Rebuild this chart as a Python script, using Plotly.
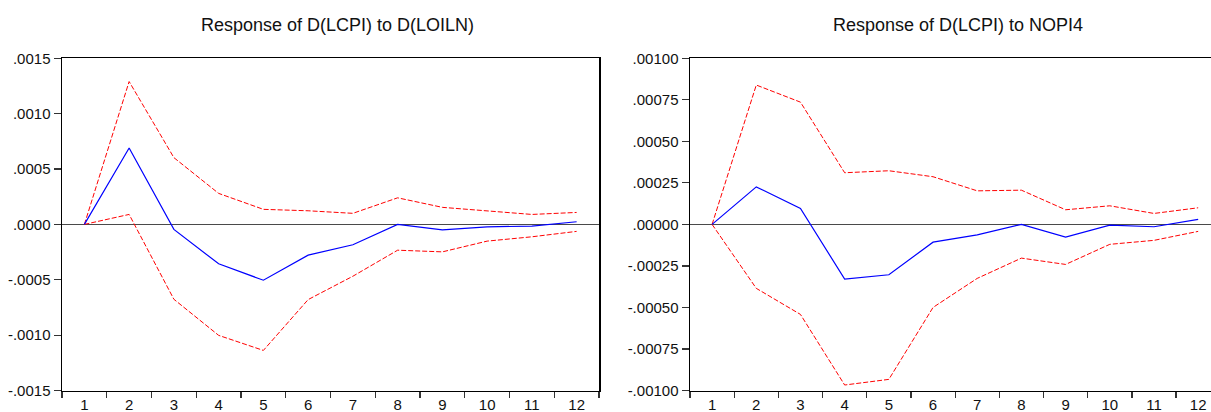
import plotly.graph_objects as go

periods = [str(i) for i in range(1, 13)]

# Panel 1: Response of D(LCPI) to D(LOILN)
oil_resp = [0.0, 0.00069, -0.000045, -0.000356, -0.000504, -0.000278, -0.000184, 0.0, -0.000049, -0.000022, -0.000015, 0.000024]
oil_upper = [0.0, 0.00129, 0.000603, 0.00028, 0.000136, 0.000123, 0.0001, 0.00024, 0.000154, 0.000123, 0.00009, 0.000108]
oil_lower = [0.0, 0.00009, -0.000676, -0.001002, -0.001138, -0.000679, -0.000468, -0.000233, -0.000248, -0.000151, -0.000112, -0.000063]

# Panel 2: Response of D(LCPI) to NOPI4
nopi_resp = [0.0, 0.000226, 0.000096, -0.000329, -0.000303, -0.000107, -0.000063, 0.0, -0.000076, -0.000004, -0.000014, 0.00003]
nopi_upper = [0.0, 0.000839, 0.000736, 0.000311, 0.000323, 0.000287, 0.000202, 0.000206, 0.000088, 0.000112, 0.000066, 0.0001]
nopi_lower = [0.0, -0.000385, -0.000542, -0.000967, -0.000933, -0.0005, -0.000325, -0.000203, -0.000241, -0.00012, -0.000096, -0.000042]

titles = ["Response of D(LCPI) to D(LOILN)", "Response of D(LCPI) to NOPI4"]

y1_vals = [-0.0015, -0.001, -0.0005, 0.0, 0.0005, 0.001, 0.0015]
y1_text = ["-.0015", "-.0010", "-.0005", ".0000", ".0005", ".0010", ".0015"]
y2_vals = [-0.001, -0.00075, -0.0005, -0.00025, 0.0, 0.00025, 0.0005, 0.00075, 0.001]
y2_text = ["-.00100", "-.00075", "-.00050", "-.00025", ".00000", ".00025", ".00050", ".00075", ".00100"]

FONT = "Arial, Liberation Sans, sans-serif"
W, H = 1211, 412


def px_x(px):
    return px / W


def px_y(py):
    return (H - py) / H


fig = go.Figure()


def add_panel(resp, up, lo, xa, ya):
    fig.add_trace(go.Scatter(x=periods, y=up, xaxis=xa, yaxis=ya, mode="lines",
                             line=dict(color="#ff0000", width=1, dash="5px,2px"), showlegend=False))
    fig.add_trace(go.Scatter(x=periods, y=lo, xaxis=xa, yaxis=ya, mode="lines",
                             line=dict(color="#ff0000", width=1, dash="5px,2px"), showlegend=False))
    fig.add_trace(go.Scatter(x=periods, y=resp, xaxis=xa, yaxis=ya, mode="lines",
                             line=dict(color="#0000ff", width=1.2), showlegend=False))


add_panel(oil_resp, oil_upper, oil_lower, "x", "y")
add_panel(nopi_resp, nopi_upper, nopi_lower, "x2", "y2")

ydom = [px_y(390.5), px_y(58.3)]

xcommon = dict(type="category", tickson="boundaries", ticks="outside", ticklen=6,
               tickcolor="#333", tickwidth=1.2, showline=True, linecolor="black", linewidth=1.5,
               mirror=True, showgrid=False, zeroline=False, automargin=False,
               tickfont=dict(family=FONT, size=15, color="#111"))
ycommon = dict(tickmode="array", ticks="outside", ticklen=7, tickcolor="#333", tickwidth=1.2,
               showline=True, linecolor="black", linewidth=1.5, showgrid=False, automargin=False,
               zeroline=True, zerolinecolor="#4a4a4a", zerolinewidth=1.4,
               tickfont=dict(family=FONT, size=15, color="#111"))

fig.update_layout(
    width=W, height=H,
    margin=dict(l=0, r=0, t=0, b=0, pad=0),
    paper_bgcolor="white", plot_bgcolor="white",
    hovermode=False,
    xaxis=dict(domain=[px_x(62), px_x(599)], range=[-0.5, 11.5], anchor="y", **xcommon),
    yaxis=dict(domain=ydom, range=[-0.0015, 0.0015], tickvals=y1_vals, ticktext=y1_text,
               anchor="x", mirror=True, **ycommon),
    xaxis2=dict(domain=[px_x(690), 1.0], range=[-0.5, 11.29], anchor="y2", **xcommon),
    yaxis2=dict(domain=ydom, range=[-0.001, 0.001], tickvals=y2_vals, ticktext=y2_text,
                anchor="x2", mirror=False, **ycommon),
    annotations=[
        dict(text=titles[0], x=px_x(337.5), y=px_y(25), xref="paper", yref="paper",
             xanchor="center", yanchor="middle", showarrow=False,
             font=dict(family=FONT, size=18, color="#111")),
        dict(text=titles[1], x=px_x(958), y=px_y(25), xref="paper", yref="paper",
             xanchor="center", yanchor="middle", showarrow=False,
             font=dict(family=FONT, size=18, color="#111")),
    ],
)

page_css = ("document.documentElement.style.margin='0';"
            "document.documentElement.style.overflow='hidden';"
            "document.body.style.margin='0';"
            "document.body.style.padding='0';"
            "document.body.style.overflow='hidden';")

fig.write_html("out.html", post_script=page_css,
               config={"displayModeBar": False, "staticPlot": True})
